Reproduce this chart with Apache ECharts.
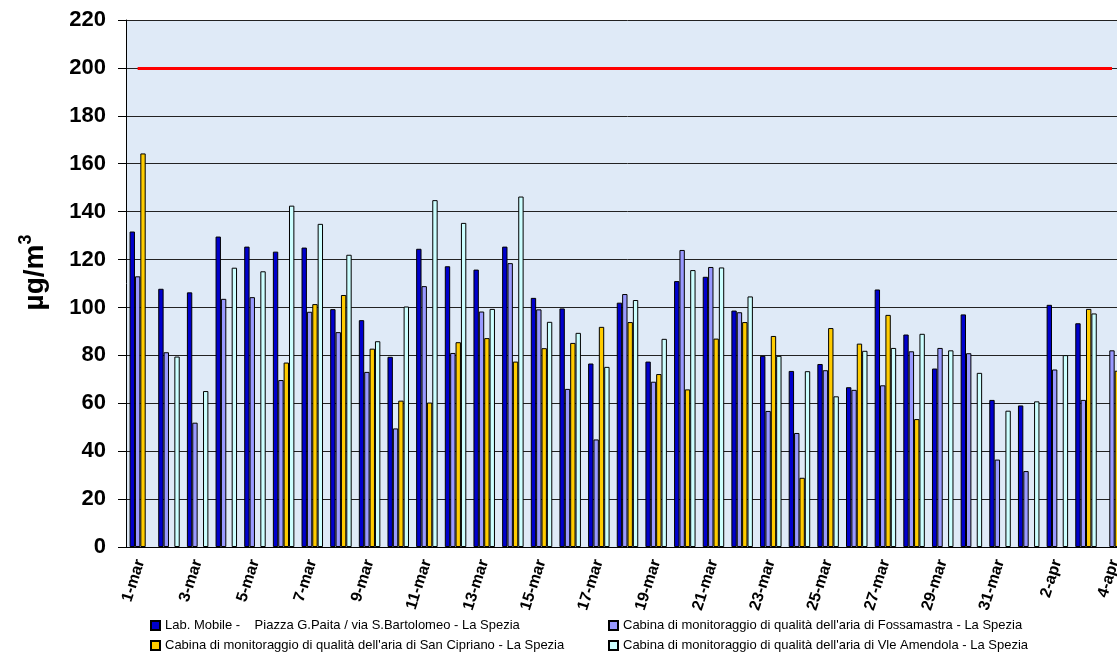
<!DOCTYPE html>
<html lang="it">
<head>
	<meta charset="UTF-8">
	<title>NO2 La Spezia</title>
	<style>
	html, body, div {
		margin: 0;
		padding: 0;
	}
	body {
		overflow: hidden;
	}
	#echart {
		width: 1130px;
		height: 659px;
	}
	</style>
</head>
<body>
	<div id="echart"></div>

	<script src="https://cdn.jsdelivr.net/npm/echarts@6/dist/echarts.min.js"></script>

	<script>
// giorni
var giorni = ['1-mar','2-mar','3-mar','4-mar','5-mar','6-mar','7-mar','8-mar','9-mar','10-mar',
	'11-mar','12-mar','13-mar','14-mar','15-mar','16-mar','17-mar','18-mar','19-mar','20-mar',
	'21-mar','22-mar','23-mar','24-mar','25-mar','26-mar','27-mar','28-mar','29-mar','30-mar',
	'31-mar','1-apr','2-apr','3-apr','4-apr'];

var nomi = [
	'Lab. Mobile -    Piazza G.Paita / via S.Bartolomeo - La Spezia',
	"Cabina di monitoraggio di qualità dell'aria di Fossamastra - La Spezia",
	"Cabina di monitoraggio di qualità dell'aria di San Cipriano - La Spezia",
	"Cabina di monitoraggio di qualità dell'aria di Vle Amendola - La Spezia"
];

var labMobile = [131.7,107.8,106.3,129.6,125.4,123.3,125,99.3,94.7,79.4,
	124.5,117.2,115.8,125.4,104,99.6,76.6,102,77.4,111,
	112.8,98.7,79.8,73.5,76.4,66.7,107.5,88.7,74.5,97.1,
	61.4,59.1,101.1,93.4,null];
var fossamastra = [113,81.3,51.9,103.6,104.3,69.7,98.2,89.7,73.1,49.5,
	108.9,81,98.3,118.5,99.2,66,44.9,105.6,69,124,
	116.9,98,56.8,47.6,73.8,65.6,67.5,81.7,83.1,80.9,
	36.5,31.7,74.1,61.4,82.1];
var sanCipriano = [164.3,null,null,null,null,77,101.4,105.2,82.8,61.1,
	60.3,85.5,87.2,77.4,83,85.2,91.9,93.9,72.2,65.8,
	87,93.9,88.1,28.9,91.4,84.9,96.9,53.4,null,null,
	null,null,null,99.4,73.6];
var amendola = [null,79.5,65.1,116.6,115.1,142.5,134.9,122,85.9,100.4,
	144.8,135.3,99.4,146.3,94,89.4,75.2,103.1,86.9,115.6,
	116.7,104.6,79.8,73.4,62.9,81.9,83.1,89,82.1,72.7,
	56.9,60.8,80.1,97.5,null];

var limite = 200;

var colori = ['#0000cc', '#9999ff', '#ffcc00', '#ccffff'];
var valori = [labMobile, fossamastra, sanCipriano, amendola];

var myEchart = echarts.init(document.getElementById('echart'));

var series = valori.map(function (dati, i) {
	return {
		name: nomi[i],
		type: 'bar',
		data: dati,
		barGap: '0%',
		barCategoryGap: '25%',
		itemStyle: {
			color: colori[i],
			borderColor: '#000',
			borderWidth: 1
		}
	};
});

// linea limite 200
series[1].markLine = {
	silent: true,
	symbol: 'none',
	label: { show: false },
	lineStyle: { color: '#ff0000', width: 3, type: 'solid' },
	data: [[
		{ xAxis: giorni[0], yAxis: limite },
		{ xAxis: giorni[giorni.length - 1], yAxis: limite }
	]]
};

var legendaBase = {
	orient: 'vertical',
	top: 619,
	height: 40,
	padding: 0,
	itemWidth: 9,
	itemHeight: 9,
	itemGap: 7,
	icon: 'rect',
	textStyle: {
		fontFamily: 'Liberation Sans, Arial',
		fontSize: 13,
		color: '#000'
	}
};

option = {
	backgroundColor: '#fff',
	animation: false,
	legend: [
		Object.assign({}, legendaBase, { left: 150, data: [nomi[0], nomi[2]] }),
		Object.assign({}, legendaBase, { left: 608, data: [nomi[1], nomi[3]] })
	],
	grid: {
		show: true,
		left: 126,
		right: 1,
		top: 20,
		bottom: 112,
		borderWidth: 0,
		backgroundColor: '#dfeaf7'
	},
	xAxis: {
		type: 'category',
		data: giorni,
		axisLine: { lineStyle: { color: '#000', width: 1 } },
		axisTick: { interval: 1, length: 6, lineStyle: { color: '#000' } },
		axisLabel: {
			interval: 1,
			rotate: 72,
			margin: 13,
			color: '#000',
			fontFamily: 'Liberation Sans, Arial',
			fontWeight: 'bold',
			fontSize: 16
		}
	},
	yAxis: {
		type: 'value',
		min: 0,
		max: 220,
		interval: 20,
		name: '{a|µg/m}{b|3}',
		nameLocation: 'middle',
		nameGap: 73,
		nameTextStyle: {
			color: '#000',
			padding: [0, 0, 0, 22],
			rich: {
				a: {
					fontFamily: 'Liberation Sans, Arial',
					fontWeight: 'bold',
					fontSize: 28,
					lineHeight: 36,
					color: '#000'
				},
				b: {
					fontFamily: 'Liberation Sans, Arial',
					fontWeight: 'bold',
					fontSize: 18,
					lineHeight: 18,
					verticalAlign: 'top',
					color: '#000'
				}
			}
		},
		axisLine: { show: true, lineStyle: { color: '#000', width: 1 } },
		axisTick: { show: true, length: 8, lineStyle: { color: '#000' } },
		axisLabel: {
			margin: 20,
			color: '#000',
			fontFamily: 'Liberation Sans, Arial',
			fontWeight: 'bold',
			fontSize: 22
		},
		splitLine: { lineStyle: { color: '#222', width: 1 } }
	},
	series: series
};

myEchart.setOption(option);
	</script>
</body>
</html>
